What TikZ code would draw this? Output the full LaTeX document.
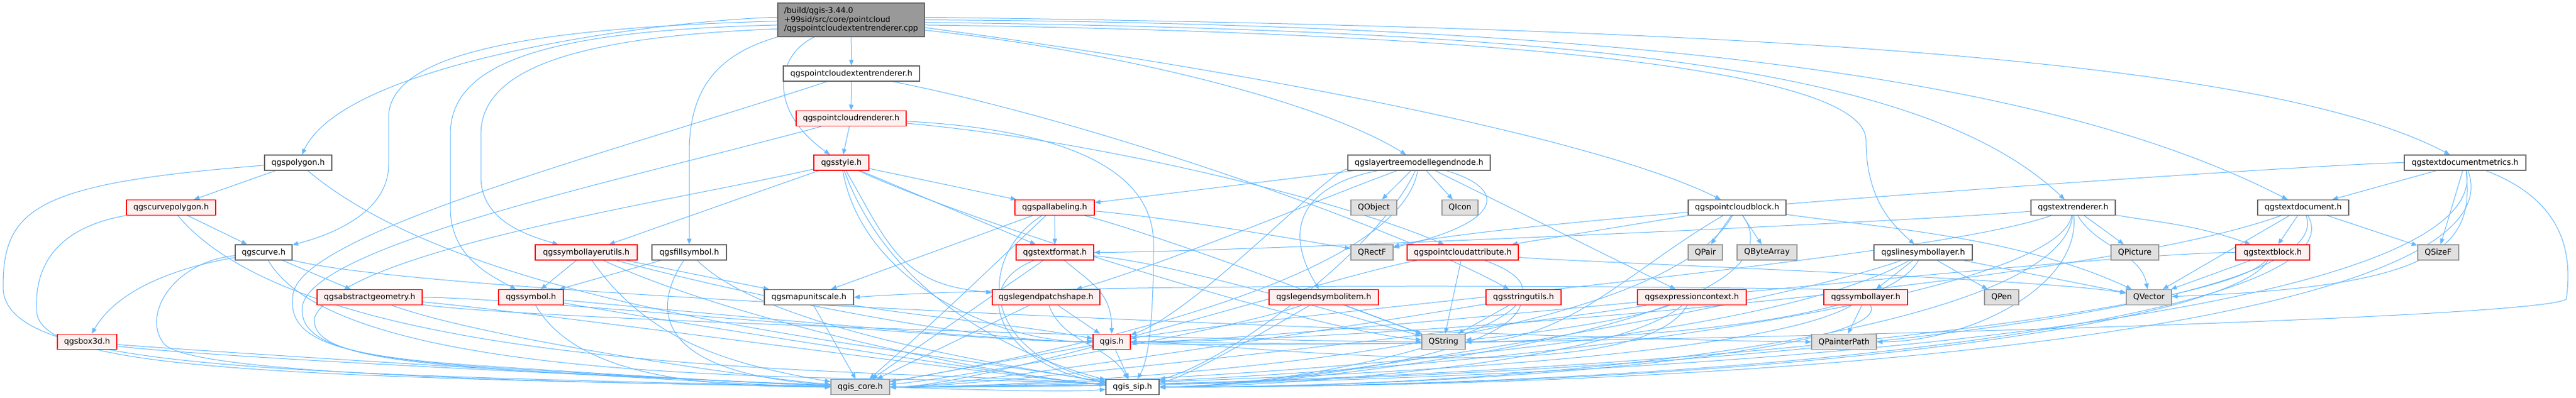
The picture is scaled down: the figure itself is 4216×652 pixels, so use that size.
\documentclass[tikz,border=0pt]{standalone}
\usepackage{fontspec}
\setmainfont{DejaVu Sans}
\usetikzlibrary{arrows.meta,calc}
\definecolor{edgeblue}{HTML}{63B8FF}
\definecolor{boxgrey}{HTML}{666666}
\definecolor{extgrey}{HTML}{999999}
\definecolor{extfill}{HTML}{E0E0E0}
\definecolor{truncfill}{HTML}{FFF0F0}
\definecolor{rootfill}{HTML}{999999}
\pgfdeclarelayer{background}
\pgfsetlayers{background,main}

\begin{document}
\begin{tikzpicture}[x=0.75pt,y=0.75pt,
  every node/.style={font=\fontsize{9.7}{11}\selectfont,minimum height=18.75pt,inner xsep=2pt,inner ysep=1pt},
  wd/.style={minimum width=#1*0.75pt},
  file/.style={draw=boxgrey,fill=white,line width=1pt},
  trunc/.style={draw=red,fill=truncfill,line width=1pt},
  ext/.style={draw=extgrey,fill=extfill,line width=1pt},
  root/.style={draw=boxgrey,fill=rootfill,line width=1pt,align=left,minimum height=41.25pt},
  dep/.style={draw=edgeblue,line width=0.75pt,-{Triangle[length=7pt,width=5.5pt]}}]
\useasboundingbox (0,0) rectangle (4216,-652);

\node[root,wd=240] (cpp) at (1393,-32.5) {/build/qgis-3.44.0\\+99sid/src/core/pointcloud\\/qgspointcloudextentrenderer.cpp};
\node[file,wd=223] (extr) at (1393.5,-120.5) {qgspointcloudextentrenderer.h};
\node[trunc,wd=180] (pcr) at (1393,-194) {qgspointcloudrenderer.h};
\node[trunc,wd=90] (style) at (1377,-266.5) {qgsstyle.h};
\node[file,wd=110] (polygon) at (488,-266.5) {qgspolygon.h};
\node[trunc,wd=146] (curvepoly) at (280,-340) {qgscurvepolygon.h};
\node[file,wd=93] (curve) at (431.5,-413.5) {qgscurve.h};
\node[trunc,wd=172] (absgeom) at (605,-487) {qgsabstractgeometry.h};
\node[trunc,wd=97] (box3d) at (142.5,-560) {qgsbox3d.h};
\node[trunc,wd=167] (symutils) at (959.5,-413.5) {qgssymbollayerutils.h};
\node[file,wd=122] (fillsym) at (1128,-413.5) {qgsfillsymbol.h};
\node[trunc,wd=106] (symbol) at (869,-487) {qgssymbol.h};
\node[file,wd=146] (mapunit) at (1324,-487) {qgsmapunitscale.h};
\node[ext,wd=96] (core) at (1408,-634) {qgis\_core.h};
\node[trunc,wd=130] (pallab) at (1726,-340) {qgspallabeling.h};
\node[trunc,wd=127] (txtfmt) at (1726.5,-413.5) {qgstextformat.h};
\node[trunc,wd=176] (patch) at (1712,-487) {qgslegendpatchshape.h};
\node[trunc,wd=61] (qgis) at (1819.5,-560) {qgis.h};
\node[file,wd=87] (sip) at (1853.5,-634) {qgis\_sip.h};
\node[trunc,wd=179] (legsym) at (2166.5,-487) {qgslegendsymbolitem.h};
\node[file,wd=233] (ltmln) at (2322.5,-266.5) {qgslayertreemodellegendnode.h};
\node[ext,wd=75] (qobject) at (2248.5,-340) {QObject};
\node[ext,wd=59] (qicon) at (2389.5,-340) {QIcon};
\node[ext,wd=69] (qrectf) at (2245.5,-413.5) {QRectF};
\node[trunc,wd=182] (pcattr) at (2394,-413.5) {qgspointcloudattribute.h};
\node[trunc,wd=123] (strutils) at (2493.5,-487) {qgsstringutils.h};
\node[ext,wd=71] (qstring) at (2362.5,-560) {QString};
\node[trunc,wd=178] (exprctx) at (2769,-487) {qgsexpressioncontext.h};
\node[file,wd=160] (pcblock) at (2843,-340) {qgspointcloudblock.h};
\node[ext,wd=56] (qpair) at (2791,-413.5) {QPair};
\node[ext,wd=98] (qbytearray) at (2892,-413.5) {QByteArray};
\node[file,wd=161] (linesym) at (3147.5,-413.5) {qgslinesymbollayer.h};
\node[trunc,wd=137] (symlayer) at (3053.5,-487) {qgssymbollayer.h};
\node[ext,wd=106] (qpainterpath) at (3018,-560) {QPainterPath};
\node[ext,wd=56] (qpen) at (3276,-487) {QPen};
\node[file,wd=138] (txtrend) at (3393,-340) {qgstextrenderer.h};
\node[ext,wd=78] (qpicture) at (3494,-413.5) {QPicture};
\node[ext,wd=74] (qvector) at (3517,-487) {QVector};
\node[file,wd=199] (tdm) at (4034.5,-266.5) {qgstextdocumentmetrics.h};
\node[file,wd=149] (txtdoc) at (3769.5,-340) {qgstextdocument.h};
\node[trunc,wd=121] (txtblock) at (3719.5,-413.5) {qgstextblock.h};
\node[ext,wd=67] (qsizef) at (3990.5,-413.5) {QSizeF};

\begin{pgfonlayer}{background}
\fill[white] (0,0) rectangle (4216,-652);
% from the .cpp
\draw[dep] (cpp) -- (extr);
\draw[dep] (cpp) .. controls (1270,-90) and (1255,-180) .. (style);
\draw[dep] (cpp.178) .. controls (1088,-33) and ($(polygon)+(65:185)$) .. (polygon);
\draw[dep] (cpp.181) .. controls (900,-45) and (640,-80) .. (636,-190) -- (636,-270) .. controls (636,-340) and (560,-380) .. (curve);
\draw[dep] (cpp.184) .. controls (900,-50) and (737,-100) .. (737,-220) -- (737,-340) .. controls (737,-420) and (800,-450) .. (symbol);
\draw[dep] (cpp.187) .. controls (950,-60) and (787,-110) .. (787,-220) -- (787,-290) .. controls (787,-360) and (860,-385) .. (symutils);
\draw[dep] (cpp.south west) .. controls (1170,-90) and (1128,-150) .. (1128,-250) -- (fillsym);
\draw[dep] (cpp.-8) .. controls (1800,-80) and (2150,-160) .. (ltmln);
\draw[dep] (cpp.-6) .. controls (2000,-110) and (2600,-220) .. (pcblock);
\draw[dep] (cpp.-4) .. controls (2200,-50) and (3054,-90) .. (3054,-230) .. controls (3054,-330) and (3100,-370) .. (linesym);
\draw[dep] (cpp.-2) .. controls (2600,-50) and (3150,-110) .. (txtrend);
\draw[dep] (cpp.0) .. controls (2800,-40) and (3400,-150) .. (txtdoc);
\draw[dep] (cpp.2) .. controls (2800,-45) and (3700,-90) .. (tdm);

\draw[dep] (extr) -- (pcr);
\draw[dep] (extr) .. controls (1000,-250) and (500,-380) .. (480,-480) .. controls (465,-560) and (560,-585) .. (800,-600) .. controls (1100,-620) and (1300,-630) .. (core);
\draw[dep] (extr) .. controls (1800,-200) and (2300,-380) .. (strutils);

\draw[dep] (pcr) -- (style);
\draw[dep] (pcr) .. controls (1000,-300) and (520,-400) .. (495,-500) .. controls (485,-570) and (600,-590) .. (850,-605) .. controls (1100,-620) and (1300,-630) .. (core);
\draw[dep] (pcr) .. controls (1700,-210) and (1888,-260) .. (1888,-400) .. controls (1888,-520) and (1880,-590) .. (sip);
\draw[dep] (pcr) .. controls (1800,-230) and (2200,-330) .. (pcattr);

\draw[dep] (style) -- (symutils);
\draw[dep] (style) -- (pallab);
\draw[dep] (style) -- (txtfmt);
\draw[dep] (style) .. controls ($(style)+(-60:157)$) and ($(patch)+(175:240)$) .. (patch);
\draw[dep] (style) .. controls (1100,-330) and (560,-410) .. (515,-520) .. controls (505,-580) and (650,-595) .. (900,-610) .. controls (1150,-622) and (1300,-630) .. (core);
\draw[dep] (style) .. controls ($(style)+(-80:195)$) and ($(qgis)+(180:195)$) .. (qgis);
\draw[dep] (style) .. controls ($(style)+(-70:220)$) and ($(sip)+(165:220)$) .. (sip);
\draw[dep] (style) .. controls ($(style)+(-25:222)$) and ($(qstring)+(175:222)$) .. (qstring);

\draw[dep] (pallab) -- (txtfmt);
\draw[dep] (pallab) -- (mapunit);
\draw[dep] (pallab) .. controls (1640,-420) and (1560,-500) .. (core);
\draw[dep] (pallab) .. controls (1600,-420) and (1600,-580) .. (sip);
\draw[dep] (pallab) .. controls ($(pallab)+(-5:180)$) and ($(qrectf)+(170:150)$) .. (qrectf);
\draw[dep] (pallab) .. controls ($(pallab)+(-15:200)$) and ($(qstring)+(160:180)$) .. (qstring);

\draw[dep] (txtfmt) .. controls ($(txtfmt)+(-40:80)$) and ($(qgis)+(90:80)$) .. (qgis);
\draw[dep] (txtfmt) -- (core);
\draw[dep] (txtfmt) .. controls (1580,-470) and (1640,-600) .. (sip);
\draw[dep] (txtfmt) .. controls ($(txtfmt)+(-5:200)$) and ($(qstring)+(165:180)$) .. (qstring);

\draw[dep] (patch) -- (qgis);
\draw[dep] (patch) .. controls ($(patch)+(-70:80)$) and ($(sip)+(120:80)$) .. (sip);
\draw[dep] (patch) -- (core);

\draw[dep] (symutils) -- (symbol);
\draw[dep] (symutils) -- (mapunit);
\draw[dep] (symutils) .. controls ($(symutils)+(-55:178)$) and ($(core)+(170:220)$) .. (core);
\draw[dep] (symutils) .. controls ($(symutils)+(-25:255)$) and ($(sip)+(175:255)$) .. (sip);
\draw[dep] (symutils) .. controls ($(symutils)+(-15:241)$) and ($(qgis)+(180:241)$) .. (qgis);

\draw[dep] (fillsym) -- (symbol);
\draw[dep] (fillsym) .. controls (1070,-500) and (1060,-610) .. (core);
\draw[dep] (fillsym) .. controls ($(fillsym)+(-45:183)$) and ($(sip)+(170:183)$) .. (sip);

\draw[dep] (symbol) .. controls ($(symbol)+(-60:150)$) and ($(core)+(180:260)$) .. (core);
\draw[dep] (symbol) .. controls ($(symbol)+(-10:194)$) and ($(sip)+(175:194)$) .. (sip);
\draw[dep] (symbol) .. controls ($(symbol)+(-5:186)$) and ($(qgis)+(180:186)$) .. (qgis);

\draw[dep] (mapunit) -- (core);
\draw[dep] (mapunit) .. controls ($(mapunit)+(-10:188)$) and ($(qgis)+(170:188)$) .. (qgis);

\draw[dep] (polygon) -- (curvepoly);
\draw[dep] (polygon) .. controls (60,-300) and (5,-340) .. (5,-470) .. controls (5,-600) and (400,-612) .. (core);
\draw[dep] (polygon) .. controls ($(polygon)+(-40:386)$) and ($(sip)+(170:386)$) .. (sip);

\draw[dep] (curvepoly) -- (curve);
\draw[dep] (curvepoly) .. controls (110,-370) and (55,-420) .. (60,-510) .. controls (65,-600) and (400,-618) .. (core);
\draw[dep] (curvepoly) .. controls ($(curvepoly)+(-50:376)$) and ($(sip)+(175:376)$) .. (sip);

\draw[dep] (curve) -- (absgeom);
\draw[dep] (curve) .. controls ($(curve)+(190:113)$) and ($(box3d)+(60:113)$) .. (box3d);
\draw[dep] (curve) .. controls (280,-430) and (230,-520) .. (270,-565) .. controls (320,-610) and (800,-625) .. (core);
\draw[dep] (curve) .. controls ($(curve)+(-60:284)$) and ($(sip)+(175:284)$) .. (sip);
\draw[dep] (curve) .. controls ($(curve)+(-15:304)$) and ($(qpainterpath)+(180:304)$) .. (qpainterpath);

\draw[dep] (absgeom) .. controls ($(absgeom)+(-20:193)$) and ($(core)+(175:193)$) .. (core);
\draw[dep] (absgeom) .. controls ($(absgeom)+(-5:247)$) and ($(sip)+(175:247)$) .. (sip);
\draw[dep] (absgeom) .. controls ($(absgeom)+(0:239)$) and ($(qgis)+(180:239)$) .. (qgis);
\draw[dep] (absgeom) .. controls ($(absgeom)+(-8:276)$) and ($(qstring)+(180:276)$) .. (qstring);

\draw[dep] (box3d) .. controls ($(box3d)+(-5:149)$) and ($(core)+(180:149)$) .. (core);
\draw[dep] (box3d) .. controls ($(box3d)+(-8:201)$) and ($(sip)+(185:201)$) .. (sip);

\draw[dep] (qgis) -- (core);
\draw[dep] (qgis) -- (sip);

\draw[dep] (ltmln) -- (qobject);
\draw[dep] (ltmln) -- (qicon);
\draw[dep] (ltmln) .. controls (2470,-310) and (2460,-365) .. (qrectf);
\draw[dep] (ltmln) -- (pallab);
\draw[dep] (ltmln) .. controls ($(ltmln)+(-160:150)$) and ($(patch)+(15:180)$) .. (patch);
\draw[dep] (ltmln) .. controls (2150,-300) and (2090,-360) .. (legsym);
\draw[dep] (ltmln) -- (exprctx);
\draw[dep] (ltmln) .. controls ($(ltmln)+(-100:215)$) and ($(core)+(10:215)$) .. (core);
\draw[dep] (ltmln) .. controls ($(ltmln)+(-115:160)$) and ($(sip)+(15:160)$) .. (sip);
\draw[dep] (ltmln) .. controls ($(ltmln)+(185:150)$) and ($(qgis)+(20:150)$) .. (qgis);

\draw[dep] (legsym) -- (qstring);
\draw[dep] (legsym) .. controls ($(legsym)+(-160:153)$) and ($(core)+(5:153)$) .. (core);
\draw[dep] (legsym) .. controls ($(legsym)+(-150:90)$) and ($(sip)+(10:90)$) .. (sip);

\draw[dep] (pcattr) -- (qstring);
\draw[dep] (pcattr) .. controls ($(pcattr)+(-170:202)$) and ($(core)+(0:202)$) .. (core);
\draw[dep] (pcattr) .. controls ($(pcattr)+(-20:296)$) and ($(sip)+(0:296)$) .. (sip);
\draw[dep] (pcattr) .. controls ($(pcattr)+(-5:177)$) and ($(qvector)+(170:177)$) .. (qvector);

\draw[dep] (strutils) -- (qstring);
\draw[dep] (strutils) .. controls ($(strutils)+(190:174)$) and ($(core)+(0:174)$) .. (core);
\draw[dep] (strutils) .. controls ($(strutils)+(-110:123)$) and ($(sip)+(0:123)$) .. (sip);

\draw[dep] (exprctx) .. controls ($(exprctx)+(-170:215)$) and ($(core)+(0:215)$) .. (core);
\draw[dep] (exprctx) .. controls ($(exprctx)+(-140:182)$) and ($(sip)+(0:182)$) .. (sip);
\draw[dep] (exprctx) .. controls ($(exprctx)+(-160:120)$) and ($(qstring)+(5:120)$) .. (qstring);
\draw[dep] (exprctx) .. controls ($(exprctx)+(-120:186)$) and ($(qgis)+(0:186)$) .. (qgis);

\draw[dep] (pcblock) -- (qpair);
\draw[dep] (pcblock) -- (qbytearray);
\draw[dep] (pcblock) -- (pcattr);
\draw[dep] (pcblock) .. controls ($(pcblock)+(-8:235)$) and ($(qvector)+(155:235)$) .. (qvector);
\draw[dep] (pcblock) .. controls ($(pcblock)+(-120:288)$) and ($(core)+(0:288)$) .. (core);
\draw[dep] (pcblock) .. controls ($(pcblock)+(-55:242)$) and ($(sip)+(0:242)$) .. (sip);
\draw[dep] (pcblock) .. controls ($(pcblock)+(-150:204)$) and ($(qstring)+(0:204)$) .. (qstring);

\draw[dep] (linesym) -- (symlayer);
\draw[dep] (linesym) -- (qpen);
\draw[dep] (linesym) -- (qvector);
\draw[dep] (linesym) .. controls ($(linesym)+(-150:344)$) and ($(core)+(0:344)$) .. (core);
\draw[dep] (linesym) .. controls ($(linesym)+(-160:254)$) and ($(sip)+(0:254)$) .. (sip);
\draw[dep] (linesym) .. controls ($(linesym)+(-120:210)$) and ($(qgis)+(0:210)$) .. (qgis);

\draw[dep] (symlayer) -- (qpainterpath);
\draw[dep] (symlayer.north west) .. controls (2500,-466) and (1700,-466) .. (mapunit.east);
\draw[dep] (symlayer) .. controls ($(symlayer)+(-150:255)$) and ($(core)+(0:255)$) .. (core);
\draw[dep] (symlayer) .. controls ($(symlayer)+(-60:90)$) and ($(sip)+(0:667)$) .. (sip);

\draw[dep] (txtrend) .. controls ($(txtrend)+(185:300)$) and ($(txtfmt)+(0:250)$) .. (txtfmt);
\draw[dep] (txtrend) -- (qpicture);
\draw[dep] (txtrend) .. controls ($(txtrend)+(-60:74)$) and ($(qvector)+(100:74)$) .. (qvector);
\draw[dep] (txtrend) .. controls ($(txtrend)+(-10:133)$) and ($(txtblock)+(160:133)$) .. (txtblock);
\draw[dep] (txtrend) .. controls ($(txtrend)+(-100:160)$) and ($(core)+(0:933)$) .. (core);
\draw[dep] (txtrend) .. controls ($(txtrend)+(-95:187)$) and ($(sip)+(0:800)$) .. (sip);
\draw[dep] (txtrend) .. controls ($(txtrend)+(-85:133)$) and ($(qpainterpath)+(0:200)$) .. (qpainterpath);
\draw[dep] (txtrend) .. controls ($(txtrend)+(-160:250)$) and ($(qgis)+(10:250)$) .. (qgis);

\draw[dep] (txtdoc) -- (txtblock);
\draw[dep] (txtdoc) -- (qsizef);
\draw[dep] (txtdoc) -- (qvector);
\draw[dep] (txtdoc) .. controls ($(txtdoc)+(-70:200)$) and ($(core)+(0:1200)$) .. (core);
\draw[dep] (txtdoc) .. controls ($(txtdoc)+(-60:200)$) and ($(sip)+(0:1067)$) .. (sip);
\draw[dep] (txtdoc) .. controls ($(txtdoc)+(-160:388)$) and ($(qgis)+(0:388)$) .. (qgis);

\draw[dep] (txtblock) -- (qvector);
\draw[dep] (txtblock) .. controls ($(txtblock)+(-130:133)$) and ($(core)+(0:1200)$) .. (core);
\draw[dep] (txtblock) .. controls ($(txtblock)+(-120:133)$) and ($(sip)+(0:1067)$) .. (sip);
\draw[dep] (txtblock) .. controls ($(txtblock)+(180:300)$) and ($(qgis)+(0:300)$) .. (qgis);

\draw[dep] (tdm) -- (txtdoc);
\draw[dep] (tdm) -- (qsizef);
\draw[dep] (tdm) .. controls (4050,-400) and (4000,-470) .. (qvector);
\draw[dep] (tdm) .. controls ($(tdm)+(-80:267)$) and ($(core)+(0:1333)$) .. (core);
\draw[dep] (tdm) .. controls ($(tdm)+(-70:267)$) and ($(sip)+(0:1200)$) .. (sip);
\draw[dep] (tdm) .. controls (4200,-330) and (4210,-420) .. (4200,-490) .. controls (4150,-530) and (2100,-575) .. (qgis);
\draw[dep] (tdm) .. controls ($(tdm)+(180:211)$) and ($(qrectf)+(15:211)$) .. (qrectf);
\end{pgfonlayer}
\end{tikzpicture}
\end{document}
